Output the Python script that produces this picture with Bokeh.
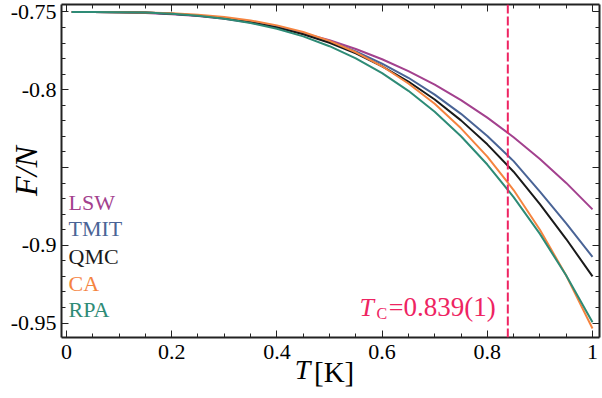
from bokeh.plotting import figure
from bokeh.models import Range1d, FixedTicker, LinearAxis, Span, Label
from bokeh.models.labeling import CustomLabelingPolicy
from bokeh.embed import file_html
from bokeh.resources import INLINE

# ---- data ----
T = [0.01, 0.05, 0.1, 0.15, 0.2, 0.25, 0.3, 0.35, 0.4, 0.45, 0.5, 0.55, 0.6,
     0.65, 0.7, 0.75, 0.8, 0.85, 0.9, 0.95, 1.0]
LSW = [-0.7500, -0.7500, -0.7502, -0.7506, -0.7514, -0.7526, -0.7544, -0.7567,
       -0.7598, -0.7636, -0.7682, -0.7738, -0.7804, -0.7880, -0.7967, -0.8067,
       -0.8179, -0.8305, -0.8445, -0.8599, -0.8769]
TMIT = [-0.7500, -0.7500, -0.7501, -0.7504, -0.7512, -0.7523, -0.7540, -0.7564,
        -0.7596, -0.7638, -0.7690, -0.7754, -0.7832, -0.7923, -0.8031, -0.8155,
        -0.8297, -0.8459, -0.8655, -0.8860, -0.9075]
QMC = [-0.7500, -0.7500, -0.7501, -0.7504, -0.7512, -0.7523, -0.7541, -0.7566,
       -0.7599, -0.7643, -0.7698, -0.7766, -0.7849, -0.7947, -0.8063, -0.8197,
       -0.8351, -0.8527, -0.8735, -0.8960, -0.9200]
CA = [-0.7500, -0.7500, -0.7501, -0.7503, -0.7508, -0.7517, -0.7532, -0.7554,
      -0.7586, -0.7629, -0.7686, -0.7759, -0.7849, -0.7960, -0.8090, -0.8248,
      -0.8430, -0.8645, -0.8900, -0.9195, -0.9535]
RPA = [-0.7500, -0.7500, -0.7501, -0.7504, -0.7512, -0.7524, -0.7543, -0.7571,
       -0.7608, -0.7657, -0.7720, -0.7798, -0.7893, -0.8007, -0.8142, -0.8299,
       -0.8481, -0.8690, -0.8927, -0.9195, -0.9495]
TC = 0.839

series_names = ["LSW", "TMIT", "QMC", "CA", "RPA"]
series_vals = [LSW, TMIT, QMC, CA, RPA]
series_colors = ["#a3418e", "#4a6496", "#1a1a1a", "#f5843f", "#2e8b76"]
tc_color = "#ee2462"

x_ticks = [0, 0.2, 0.4, 0.6, 0.8, 1.0]
x_tick_labels = ["0", "0.2", "0.4", "0.6", "0.8", "1"]
x_minor = [0.05, 0.1, 0.15, 0.25, 0.3, 0.35, 0.45, 0.5, 0.55, 0.65, 0.7, 0.75,
           0.85, 0.9, 0.95]
y_ticks = [-0.95, -0.9, -0.85, -0.8, -0.75]
y_tick_labels = ["-0.95", "-0.9", "", "-0.8", "-0.75"]
y_minor = [round(-0.95 + 0.01 * i, 2) for i in range(21)]

SERIF = "Liberation Serif"
NB = "\u00a0"

p = figure(width=602, height=398,
           x_range=Range1d(-0.0095, 1.0133), y_range=Range1d(-0.95932, -0.74518),
           output_backend="svg", toolbar_location=None,
           min_border_left=61, min_border_right=3, min_border_top=4,
           min_border_bottom=61)
p.xgrid.visible = False
p.ygrid.visible = False
p.outline_line_color = None
p.background_fill_color = "white"

bottom = p.below[0]
left = p.left[0]
top = LinearAxis()
right = LinearAxis()
p.add_layout(top, "above")
p.add_layout(right, "right")

for ax in [bottom, top]:
    ax.ticker = FixedTicker(ticks=x_ticks, minor_ticks=x_minor)
for ax in [left, right]:
    ax.ticker = FixedTicker(ticks=y_ticks, minor_ticks=y_minor)

for ax in [bottom, top, left, right]:
    ax.axis_line_width = 2
    ax.axis_line_color = "#222222"
    ax.major_tick_in = 7
    ax.major_tick_out = 0
    ax.minor_tick_in = 4
    ax.minor_tick_out = 0
    ax.major_tick_line_color = "#222222"
    ax.minor_tick_line_color = "#222222"
    ax.major_label_text_font = SERIF
    ax.major_label_text_color = "black"
    ax.major_label_text_font_size = "22px"

bottom.major_label_overrides = {v: s for v, s in zip(x_ticks, x_tick_labels)}
left.major_label_overrides = {v: s for v, s in zip(y_ticks, y_tick_labels)}
bottom.major_label_standoff = 7
left.major_label_standoff = 5
for ax in [top, right]:
    ax.major_label_text_font_size = "0px"
    ax.major_label_standoff = 0
    ax.major_label_policy = CustomLabelingPolicy(code="return []")

# axis titles
left.axis_label = "F/N"
left.axis_label_text_font = SERIF
left.axis_label_text_font_style = "italic"
left.axis_label_text_font_size = "32px"
left.axis_label_text_color = "black"
left.axis_label_standoff = -36

bottom.axis_label = "T" + NB * 8
bottom.axis_label_text_font = SERIF
bottom.axis_label_text_font_style = "italic"
bottom.axis_label_text_font_size = "28px"
bottom.axis_label_text_color = "black"
bottom.axis_label_standoff = -8

unit_axis = LinearAxis(ticker=FixedTicker(ticks=[]), axis_line_color=None,
                       major_tick_line_color=None, minor_tick_line_color=None,
                       major_label_text_font_size="0px", major_label_standoff=0,
                       axis_label=NB + "[K]", axis_label_text_font=SERIF,
                       axis_label_text_font_style="normal",
                       axis_label_text_font_size="29px",
                       axis_label_text_color="black", axis_label_standoff=-32)
p.add_layout(unit_axis, "below")

for name, vals, col in zip(series_names, series_vals, series_colors):
    p.line(T, vals, line_color=col, line_width=2)

p.add_layout(Span(location=TC, dimension="height", line_color=tc_color,
                  line_width=2, line_dash="9 3"))

# legend texts
leg_y = [-0.8722, -0.8895, -0.9070, -0.9243, -0.9415]
for name, col, yy in zip(series_names, series_colors, leg_y):
    p.add_layout(Label(x=0.0038, y=yy, text=name, text_color=col,
                       text_font=SERIF, text_font_size="22px",
                       text_baseline="middle", text_align="left"))

# Tc annotation
p.add_layout(Label(x=0.5570, y=-0.9400, text="T", text_color=tc_color,
                   text_font=SERIF, text_font_style="italic",
                   text_font_size="26px", text_baseline="middle"))
p.add_layout(Label(x=0.5895, y=-0.9439, text="C", text_color=tc_color,
                   text_font=SERIF, text_font_style="normal",
                   text_font_size="16px", text_baseline="middle"))
p.add_layout(Label(x=0.6125, y=-0.9400, text="=", text_color=tc_color,
                   text_font=SERIF, text_font_size="26px",
                   text_baseline="middle"))
p.add_layout(Label(x=0.6405, y=-0.9400, text="0.839(1)", text_color=tc_color,
                   text_font=SERIF, text_font_size="27px",
                   text_baseline="middle"))

open("out.html", "w").write(file_html(p, INLINE))
